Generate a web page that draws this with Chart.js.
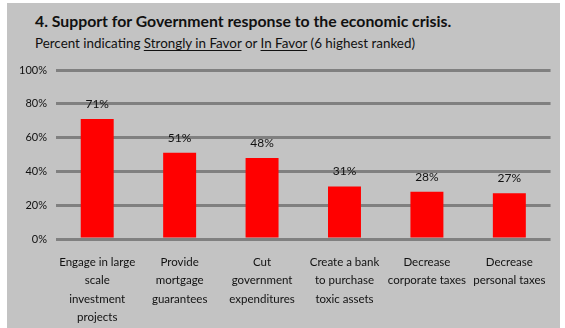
<!DOCTYPE html>
<html>
<head>
<meta charset="utf-8">
<script src="https://cdn.jsdelivr.net/npm/chart.js@4"></script>
<style>
  body { margin: 0; background: #fff; }
  #panel { position: absolute; left: 7px; top: 3px; width: 553px; height: 325px; background: #c3c3c3; }
  .head { position: absolute; left: 28px; white-space: nowrap; color: #111; font-family: Lato, sans-serif; }
  #title { top: 9px; font-size: 15.8px; font-weight: bold; line-height: 18px; }
  #subtitle { top: 31px; font-size: 13.4px; line-height: 18px; }
  #subtitle u { text-underline-offset: 2px; }
  #chart { position: absolute; left: 0; top: 49px; }
</style>
</head>
<body>
<div id="panel">
  <div class="head" id="title">4. Support for Government response to the economic crisis.</div>
  <div class="head" id="subtitle">Percent indicating <u>Strongly in Favor</u> or <u>In Favor</u> (6 highest ranked)</div>
  <canvas id="chart" width="553" height="276"></canvas>
</div>
<script>
var categorias = [
    ['Engage in large', 'scale', 'investment', 'projects'],
    ['Provide', 'mortgage', 'guarantees'],
    ['Cut', 'government', 'expenditures'],
    ['Create a bank', 'to purchase', 'toxic assets'],
    ['Decrease', 'corporate taxes'],
    ['Decrease', 'personal taxes']
];
var valores = [71, 51, 48, 31, 28, 27];
var marcas = [0, 20, 40, 60, 80, 100];

// etiqueta de porcentaje encima de cada barra
var etiquetasBarras = {
    id: 'etiquetasBarras',
    afterDatasetsDraw: function (chart) {
        var ctx = chart.ctx;
        var meta = chart.getDatasetMeta(0);
        ctx.save();
        ctx.font = '12px Lato, sans-serif';
        ctx.fillStyle = '#111';
        ctx.textAlign = 'center';
        ctx.textBaseline = 'middle';
        meta.data.forEach(function (bar, i) {
            ctx.fillText(valores[i] + '%', bar.x, bar.y - 15);
        });
        ctx.restore();
    }
};

var ctx = document.getElementById('chart');
new Chart(ctx, {
    type: 'bar',
    data: {
        labels: categorias,
        datasets: [{
            data: valores,
            backgroundColor: '#ff0000',
            borderWidth: 0,
            barPercentage: 0.4,
            categoryPercentage: 1
        }]
    },
    options: {
        responsive: false,
        animation: false,
        layout: { padding: { top: 18, right: 6, left: 0, bottom: 0 } },
        plugins: {
            legend: { display: false },
            tooltip: { enabled: false }
        },
        scales: {
            x: {
                grid: { display: false, drawTicks: false },
                border: { display: false },
                ticks: {
                    padding: 14,
                    color: '#111',
                    font: { family: 'Lato', size: 11.5, lineHeight: 1.6 },
                    maxRotation: 0,
                    autoSkip: false
                },
                afterFit: function (scale) { scale.height = 89; }
            },
            y: {
                min: 0,
                max: 100,
                afterBuildTicks: function (scale) {
                    scale.ticks = marcas.map(function (v) { return { value: v }; });
                },
                grid: { color: '#808080', lineWidth: 3, drawTicks: false },
                border: { display: false },
                ticks: {
                    padding: 9,
                    color: '#111',
                    font: { family: 'Lato', size: 11 },
                    callback: function (v) { return v + '%'; }
                },
                afterFit: function (scale) { scale.width = 49; }
            }
        }
    },
    plugins: [etiquetasBarras]
});
</script>
</body>
</html>
